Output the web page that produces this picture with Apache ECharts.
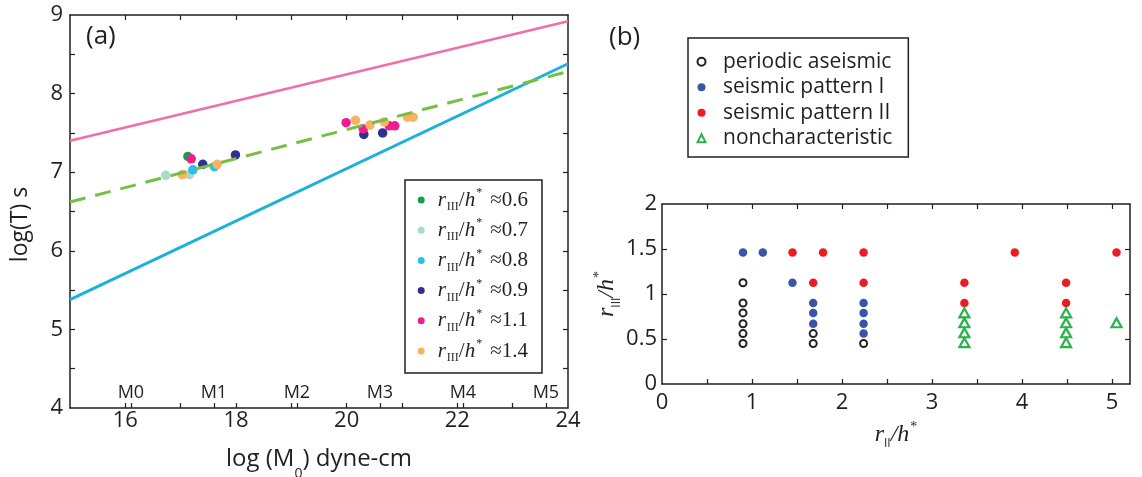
<!DOCTYPE html>
<html>
<head>
<meta charset="utf-8">
<script src="https://cdn.jsdelivr.net/npm/echarts@6.0.0/dist/echarts.min.js"></script>
<style>html,body{margin:0;padding:0;background:#fff}#c{width:1142px;height:477px}</style>
</head>
<body>
<div id="c"></div>
<script>
// ---------- Panel (a) data ----------
const groupNames = ['0.6', '0.7', '0.8', '0.9', '1.1', '1.4'];
const pts06 = [[17.13, 7.20]];
const pts07 = [[16.73, 6.96], [17.16, 6.97]];
const pts08 = [[17.22, 7.03], [17.61, 7.07]];
const pts09 = [[17.40, 7.10], [17.99, 7.22], [20.31, 7.48], [20.65, 7.50]];
const pts11 = [[17.19, 7.17], [19.99, 7.63], [20.30, 7.55], [20.77, 7.59], [20.87, 7.59]];
const pts14 = [[17.03, 6.97], [17.66, 7.10], [20.16, 7.66], [20.42, 7.60], [20.68, 7.64], [21.10, 7.70], [21.20, 7.70]];
const upperLine = [[15, 7.40], [24, 8.92]];
const lowerLine = [[15, 5.38], [24, 8.38]];
const fitLine = [[15, 6.62], [24, 8.28]];
const xTickValsA = [16, 17, 18, 19, 20, 21, 22, 23];
const xLabelValsA = [16, 18, 20, 22, 24];
const yTickValsA = [4.5, 5, 5.5, 6, 6.5, 7, 7.5, 8, 8.5];
const yLabelValsA = [4, 5, 6, 7, 8, 9];
const magPos = [16.1, 17.6, 19.1, 20.6, 22.1, 23.6];
const magLabels = ['M0', 'M1', 'M2', 'M3', 'M4', 'M5'];

// ---------- Panel (b) data ----------
const classNames = ['periodic aseismic', 'seismic pattern I', 'seismic pattern II', 'noncharacteristic'];
const periodic = [[0.9, 0.45], [0.9, 0.56], [0.9, 0.67], [0.9, 0.79], [0.9, 0.9], [0.9, 1.125],
                  [1.68, 0.56], [1.68, 0.45], [2.24, 0.45]];
const patternI = [[0.9, 1.46], [1.12, 1.46], [1.45, 1.125], [1.68, 0.9], [1.68, 0.79], [1.68, 0.67],
                  [2.24, 0.9], [2.24, 0.79], [2.24, 0.67], [2.24, 0.56]];
const patternII = [[1.45, 1.46], [1.79, 1.46], [1.68, 1.125], [2.24, 1.46], [2.24, 1.125],
                   [3.36, 1.125], [3.36, 0.9], [3.92, 1.46], [4.49, 1.125], [4.49, 0.9], [5.05, 1.46]];
const nonchar = [[3.36, 0.79], [3.36, 0.68], [3.36, 0.57], [3.36, 0.46],
                 [4.49, 0.79], [4.49, 0.68], [4.49, 0.57], [4.49, 0.46], [5.05, 0.68]];
const xTickValsB = [0.5, 1, 1.5, 2, 2.5, 3, 3.5, 4, 4.5, 5];
const xLabelValsB = [0, 1, 2, 3, 4, 5];
const yTickValsB = [0.5, 1, 1.5];
const yLabelValsB = [0, 0.5, 1, 1.5, 2];

// ---------- styles ----------
const ink = '#231f20';
const groupColors = ['#12a04b', '#a8dcc6', '#2bbdee', '#2e3192', '#ec1f8e', '#f9b162'];
const groupData = [pts06, pts07, pts08, pts09, pts11, pts14];
const sans = 'Open Sans';
const serif = 'Liberation Serif';

const axisLine = { show: true, onZero: false, lineStyle: { color: ink, width: 1.5 } };
function ticks(vals) {
  return { show: true, inside: true, length: 5, customValues: vals, lineStyle: { color: ink, width: 1.2 } };
}
function labels(vals, margin) {
  return { show: true, customValues: vals, margin: margin, fontFamily: sans, fontSize: 22, color: ink };
}
function magLabel(v) {
  for (let k = 0; k < magPos.length; k++) {
    if (Math.abs(magPos[k] - v) < 1e-6) return magLabels[k];
  }
  return '';
}
const noLabel = { show: false };
const noSplit = { show: false };

const legendRich = {
  i: { fontFamily: serif, fontStyle: 'italic', fontSize: 21, lineHeight: 22, color: ink },
  n: { fontFamily: serif, fontSize: 21, lineHeight: 22, color: ink },
  g: { fontFamily: serif, fontSize: 21, lineHeight: 22, color: ink, padding: [0, 0, 0, 8] },
  sub: { fontFamily: serif, fontSize: 12, lineHeight: 12, padding: [14, 0, 0, 1], color: ink },
  sup: { fontFamily: serif, fontSize: 12, lineHeight: 12, padding: [0, 0, 14, 1], color: ink }
};
const nameRichB = {
  i: { fontFamily: serif, fontStyle: 'italic', fontSize: 24, lineHeight: 26, color: ink },
  sub: { fontFamily: sans, fontSize: 12, lineHeight: 12, padding: [18, 0, 0, 0], color: ink },
  sup: { fontFamily: serif, fontSize: 14, lineHeight: 14, padding: [0, 0, 16, 1], color: ink }
};

const chart = echarts.init(document.getElementById('c'));
chart.setOption({
  animation: false,
  backgroundColor: '#fff',
  grid: [
    { left: 70, top: 15, width: 498, height: 393, outerBoundsMode: 'none', containLabel: false },
    { left: 662, top: 204, width: 468, height: 180, outerBoundsMode: 'none', containLabel: false }
  ],
  xAxis: [
    { gridIndex: 0, type: 'value', min: 15, max: 24, position: 'bottom',
      axisLine: axisLine, axisTick: ticks(xTickValsA.concat(magPos)),
      axisLabel: labels(xLabelValsA, 2), splitLine: noSplit,
      name: '{n|log (M}{s|0}{n|) dyne-cm}', nameLocation: 'middle', nameGap: 26,
      nameTextStyle: { rich: {
        n: { fontFamily: sans, fontSize: 24, lineHeight: 26, color: ink },
        s: { fontFamily: sans, fontSize: 14, lineHeight: 14, padding: [30, 0, 0, 0], color: ink }
      } } },
    { gridIndex: 0, type: 'value', min: 15, max: 24, position: 'bottom',
      axisLine: { show: false, onZero: false }, axisTick: { show: false }, splitLine: noSplit,
      axisLabel: { show: true, inside: true, customValues: magPos, margin: 6,
        formatter: magLabel, fontFamily: sans, fontSize: 18, color: ink } },
    { gridIndex: 0, type: 'value', min: 15, max: 24, position: 'top',
      axisLine: axisLine, axisTick: ticks(xTickValsA), axisLabel: noLabel, splitLine: noSplit },
    { gridIndex: 1, type: 'value', min: 0, max: 5.2, position: 'bottom',
      axisLine: axisLine, axisTick: ticks(xTickValsB), axisLabel: labels(xLabelValsB, 8), splitLine: noSplit,
      name: '{i|r}{sub|II}{i|/h}{sup|*}', nameLocation: 'middle', nameGap: 38,
      nameTextStyle: { rich: nameRichB } },
    { gridIndex: 1, type: 'value', min: 0, max: 5.2, position: 'top',
      axisLine: axisLine, axisTick: ticks(xTickValsB), axisLabel: noLabel, splitLine: noSplit }
  ],
  yAxis: [
    { gridIndex: 0, type: 'value', min: 4, max: 9, position: 'left',
      axisLine: axisLine, axisTick: ticks(yTickValsA), axisLabel: labels(yLabelValsA, 7), splitLine: noSplit,
      name: 'log(T) s', nameLocation: 'middle', nameGap: 38,
      nameTextStyle: { fontFamily: sans, fontSize: 23, color: ink, padding: [0, 26, 0, 0] } },
    { gridIndex: 0, type: 'value', min: 4, max: 9, position: 'right',
      axisLine: axisLine, axisTick: ticks(yTickValsA), axisLabel: noLabel, splitLine: noSplit },
    { gridIndex: 1, type: 'value', min: 0, max: 2, position: 'left',
      axisLine: axisLine, axisTick: ticks(yTickValsB), axisLabel: labels(yLabelValsB, 5), splitLine: noSplit,
      name: '{i|r}{sub|III}{i|/h}{sup|*}', nameLocation: 'middle', nameGap: 37,
      nameTextStyle: { rich: nameRichB } },
    { gridIndex: 1, type: 'value', min: 0, max: 2, position: 'right',
      axisLine: axisLine, axisTick: ticks(yTickValsB), axisLabel: noLabel, splitLine: noSplit }
  ],
  legend: [
    { orient: 'vertical', left: 405, top: 180, padding: [7, 14, 9, 12.7], itemGap: 4.2,
      itemWidth: 7, itemHeight: 7, icon: 'circle', selectedMode: false,
      borderColor: ink, borderWidth: 1.5, borderRadius: 0,
      data: groupNames,
      formatter: function (name) { return '{i|r}{sub|III}{n|/}{i|h}{sup|*}{g|\u2248' + name + '}'; },
      textStyle: { padding: [0, 0, 0, 8], rich: legendRich } },
    { orient: 'vertical', left: 688, top: 38, padding: [12.7, 16, 7.8, 8.5], itemGap: 3.5,
      itemWidth: 8, itemHeight: 8, selectedMode: false,
      borderColor: ink, borderWidth: 1.5, borderRadius: 0,
      data: [
        { name: classNames[0], icon: 'circle', itemStyle: { color: '#fff', borderColor: ink, borderWidth: 2 } },
        { name: classNames[1], icon: 'circle' },
        { name: classNames[2], icon: 'circle' },
        { name: classNames[3], icon: 'triangle', itemStyle: { color: '#fff', borderColor: '#2bb24c', borderWidth: 2 } }
      ],
      textStyle: { fontFamily: sans, fontSize: 21, lineHeight: 22, color: ink, padding: [0, 0, 0, 12.5] } }
  ],
  graphic: [
    { type: 'text', left: 86, top: 24, style: { text: '(a)', font: '26px "Open Sans"', fill: ink } },
    { type: 'text', left: 609, top: 25, style: { text: '(b)', font: '26px "Open Sans"', fill: ink } }
  ],
  series: [
    { type: 'line', xAxisIndex: 0, yAxisIndex: 0, data: upperLine, symbol: 'none', silent: true,
      lineStyle: { color: '#f06eaa', width: 2.5 } },
    { type: 'line', xAxisIndex: 0, yAxisIndex: 0, data: lowerLine, symbol: 'none', silent: true,
      lineStyle: { color: '#1cb1d8', width: 3 } },
    { type: 'line', xAxisIndex: 0, yAxisIndex: 0, data: fitLine, symbol: 'none', silent: true,
      lineStyle: { color: '#74bf44', width: 3, type: [16, 10] } }
  ].concat(groupNames.map(function (n, i) {
    return { type: 'scatter', name: n, xAxisIndex: 0, yAxisIndex: 0, data: groupData[i],
      symbol: 'circle', symbolSize: 9.5, itemStyle: { color: groupColors[i], opacity: 1 } };
  })).concat([
    { type: 'scatter', name: classNames[0], xAxisIndex: 3, yAxisIndex: 2, data: periodic,
      symbol: 'circle', symbolSize: 7, itemStyle: { color: '#fff', borderColor: ink, borderWidth: 2, opacity: 1 } },
    { type: 'scatter', name: classNames[1], xAxisIndex: 3, yAxisIndex: 2, data: patternI,
      symbol: 'circle', symbolSize: 8.5, itemStyle: { color: '#3a55a5', opacity: 1 } },
    { type: 'scatter', name: classNames[2], xAxisIndex: 3, yAxisIndex: 2, data: patternII,
      symbol: 'circle', symbolSize: 8.5, itemStyle: { color: '#ec1c24', opacity: 1 } },
    { type: 'scatter', name: classNames[3], xAxisIndex: 3, yAxisIndex: 2, data: nonchar,
      symbol: 'triangle', symbolSize: [10, 9], itemStyle: { color: '#fff', borderColor: '#2bb24c', borderWidth: 2.2, opacity: 1 } }
  ])
});
</script>
</body>
</html>
